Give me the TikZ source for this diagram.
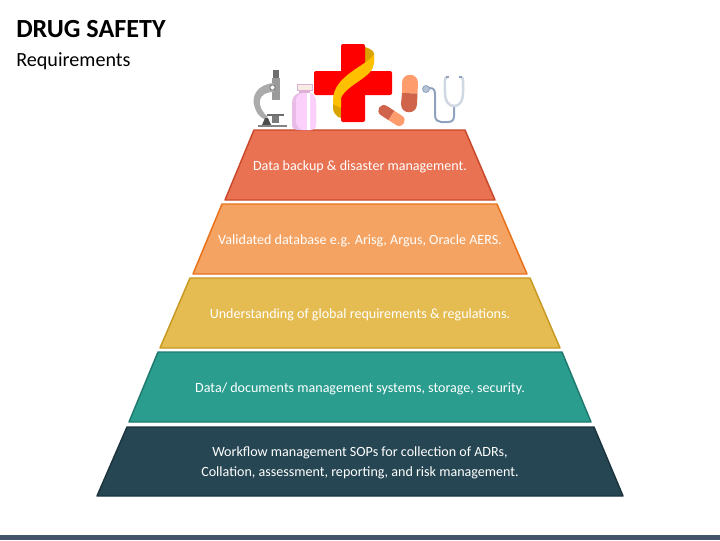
\documentclass[tikz,border=0pt]{standalone}
\usepackage{fontspec}
\setmainfont{Carlito}
\definecolor{tA}{HTML}{E97252}\definecolor{eA}{HTML}{C9472A}
\definecolor{tB}{HTML}{F4A362}\definecolor{eB}{HTML}{E8711A}
\definecolor{tC}{HTML}{E5BC52}\definecolor{eC}{HTML}{C99A22}
\definecolor{tD}{HTML}{2A9D8F}\definecolor{eD}{HTML}{1E7A6E}
\definecolor{tE}{HTML}{264653}\definecolor{eE}{HTML}{1C343E}
\definecolor{barc}{HTML}{44546A}
\definecolor{crossred}{HTML}{FF0000}\definecolor{ribbon}{HTML}{FFC000}\definecolor{ribbond}{HTML}{D9A300}
\definecolor{mDark}{HTML}{6E6E6E}\definecolor{mMid}{HTML}{9A9A9A}\definecolor{mLight}{HTML}{ABABAB}
\definecolor{bBody}{HTML}{FBD0FB}\definecolor{bShade}{HTML}{E8BCE6}\definecolor{bCap}{HTML}{F8EBE4}\definecolor{bNeck}{HTML}{DDB0D8}
\definecolor{pLight}{HTML}{FF9C6E}\definecolor{pDark}{HTML}{D0644A}
\definecolor{sTube}{HTML}{8FA3BF}\definecolor{sHead}{HTML}{CFD8E3}
\tikzset{
 tier/.style={line width=1.1pt,line join=round},
 tierlabel/.style={text=white,font=\fontsize{10.55}{15}\selectfont,align=center},
}
\begin{document}
\begin{tikzpicture}[x=0.75pt,y=-0.75pt]
\useasboundingbox (0,0) rectangle (720,540);
\fill[barc] (0,535) rectangle (720,540);
\node[anchor=west,font=\fontsize{19.6}{22}\selectfont\bfseries,inner sep=0] (title) at (16,29) {DRUG SAFETY};
\node[anchor=west,font=\fontsize{15.1}{18}\selectfont,inner sep=0] (sub) at (16,61) {Requirements};
% tiers
\draw[tier,fill=tA,draw=eA] (254,130)--(465,130)--(495,200)--(225,200)--cycle;
\draw[tier,fill=tB,draw=eB] (222,204)--(497,204)--(527,274)--(193,274)--cycle;
\draw[tier,fill=tC,draw=eC] (190,278)--(530,278)--(560,348)--(160,348)--cycle;
\draw[tier,fill=tD,draw=eD] (158,352)--(562,352)--(591,422)--(129,422)--cycle;
\draw[tier,fill=tE,draw=eE] (127,427)--(594,427)--(623,496)--(97,496)--cycle;
\node[tierlabel] (l1) at (360,167) {Data backup \& disaster management.};
\node[tierlabel] (l2) at (360,241) {Validated database e.g. Arisg, Argus, Oracle AERS.};
\node[tierlabel] (l3) at (360,315) {Understanding of global requirements \& regulations.};
\node[tierlabel] (l4) at (360,389) {Data/ documents management systems, storage, security.};
\node[tierlabel] (l5) at (360,463) {Workflow management SOPs for collection of ADRs,\\Collation, assessment, reporting, and risk management.};
% microscope
\fill[mDark] (273,70) rectangle (279,78);
\fill[mMid] (272,78) rectangle (280,100);
\fill[mLight] (274,83) .. controls (258,84) and (250,96) .. (255,108) .. controls (257,114) and (260,117) .. (264,119) -- (268,117) .. controls (262,112) and (259,106) .. (260,100) .. controls (261,95) and (266,92) .. (274,92) -- cycle;
\fill[mDark!70!black] (262,125)--(265,118)--(268,118)--(271,125)--cycle;
\fill[mDark] (267,114) rectangle (284,115.5);
\fill[mMid!80!black] (272,115.5) rectangle (279,123);
\fill[mMid!85!black] (258,125) rectangle (287,127);
\fill[white,draw=mDark,line width=.5pt] (272.5,87.5) circle (2.6);
% bottle
\fill[bCap,draw=bNeck,line width=.3pt] (297,84) rectangle (312,90);
\fill[bNeck] (299,90) rectangle (310,93);
\fill[bShade] (292,103) .. controls (292,97) and (296,93) .. (300,93) -- (309,93) .. controls (313,93) and (316,97) .. (316,103) -- (316,124) .. controls (316,128) and (314,130) .. (311,130) -- (297,130) .. controls (294,130) and (292,128) .. (292,124) -- cycle;
\fill[bBody] (296,100) .. controls (296,96) and (300,93) .. (303,93) -- (309,93) .. controls (313,93) and (316,97) .. (316,103) -- (316,124) .. controls (316,128) and (314,130) .. (311,130) -- (302,130) .. controls (298,128) and (296,125) .. (296,120) -- cycle;
\fill[white] (307,93) rectangle (309.5,130);
% cross
\fill[ribbond] (365,47) .. controls (371,49) and (374,51) .. (374,54) -- (374,62) -- (365,67) -- cycle;
\fill[ribbond] (333,102) -- (341,102) -- (341,118) .. controls (336,117) and (333,112) .. (333,108) -- cycle;
\fill[crossred,rounded corners=1.5pt] (341,44) rectangle (365,122);
\fill[crossred,rounded corners=1.5pt] (314,71) rectangle (392,95);
\fill[ribbon] (374,54) .. controls (369,65) and (333,75) .. (333,100) -- (333,104) .. controls (335,105) and (338,106) .. (341,108) -- (341,98) .. controls (347,84) and (374,77) .. (374,63) -- cycle;
% pills
\fill[pLight] (402,93) -- (402,83) .. controls (402,72) and (418,72) .. (418,83) -- (417.5,93.5) -- cycle;
\fill[pDark] (402,93) -- (417.5,93.5) -- (417,104) .. controls (417,115) and (401,115) .. (401,104) -- cycle;
\begin{scope}[shift={(391.5,115.5)},rotate=-33]
\fill[pDark] (0,-5.5) -- (-9,-5.5) .. controls (-16.5,-5.5) and (-16.5,5.5) .. (-9,5.5) -- (0,5.5) -- cycle;
\fill[pLight] (0,-5.5) -- (9,-5.5) .. controls (16.5,-5.5) and (16.5,5.5) .. (9,5.5) -- (0,5.5) -- cycle;
\end{scope}
% stethoscope
\draw[sTube,line width=1.5pt] (429,88) .. controls (434,88) and (435,90) .. (435,95) -- (435,115) .. controls (435,120) and (438,122) .. (441,122) -- (448,122) .. controls (452,122) and (454,120) .. (454,116) -- (454,106);
\draw[sHead,line width=1.9pt] (447,77) .. controls (444,77) and (445,85) .. (445,92) .. controls (445,102) and (449,106) .. (454,106) .. controls (459,106) and (463,102) .. (463,92) .. controls (463,85) and (464,77) .. (461,77);
\draw[sTube,line width=1.2pt] (446,77) -- (449,77) (459,77) -- (462,77);
\fill[sHead!60!sTube,draw=sTube,line width=.6pt] (426,89) circle (3.5);
\end{tikzpicture}
\end{document}
